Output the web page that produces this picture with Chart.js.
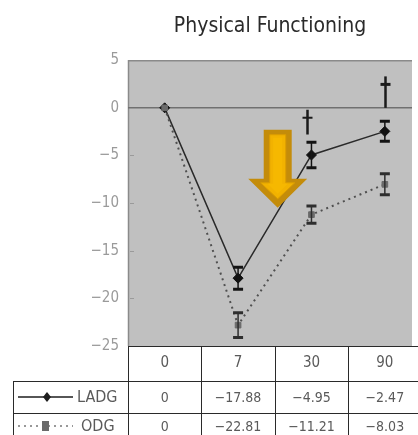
<!DOCTYPE html>
<html>
<head>
<meta charset="utf-8">
<script src="https://cdn.jsdelivr.net/npm/chart.js@4.4.1/dist/chart.umd.min.js"></script>
<style>
  html, body { margin: 0; padding: 0; background: #fff; }
  #wrap { position: relative; width: 418px; height: 435px; }
</style>
</head>
<body>
<div id="wrap"><canvas id="c"></canvas></div>
<script>
// Follow-up days and mean change in Physical Functioning score
const categories = ['0', '7', '30', '90'];
const ladg = [0, -17.88, -4.95, -2.47];
const odg = [0, -22.81, -11.21, -8.03];
const ladgErr = [0, 1.15, 1.35, 1.05];
const odgErr = [0, 1.3, 0.9, 1.1];
const yTicks = [5, 0, -5, -10, -15, -20, -25];
// significance daggers: category index, top and foot score
const daggerIdx = [2, 3];
const daggerTop = [-0.2, 3.3];
const daggerBase = [-2.8, 0];
// highlight arrow: category position, top and tip scores
const arrowAt = 1.54;
const arrowTop = -2.3;
const arrowTip = -10.5;

const FONT = "'Liberation Sans Narrow', 'Arial Narrow', 'DejaVu Sans Condensed', sans-serif";

const toPoints = arr => arr.map((v, i) => ({ x: i, y: v }));

const plotBg = {
  id: 'plotBg',
  beforeDraw(chart) {
    const { ctx, chartArea: a } = chart;
    ctx.save();
    ctx.fillStyle = '#c0c0c0';
    ctx.fillRect(a.left, a.top, a.right - a.left, a.bottom - a.top);
    ctx.strokeStyle = '#8a8a8a';
    ctx.lineWidth = 1.5;
    ctx.beginPath();
    ctx.moveTo(a.right, a.top + 0.5);
    ctx.lineTo(a.left + 0.5, a.top + 0.5);
    ctx.lineTo(a.left + 0.5, a.bottom);
    ctx.stroke();
    // small tick marks on the inside of the value axis
    const y = chart.scales.y;
    ctx.strokeStyle = '#9a9a9a';
    ctx.lineWidth = 1;
    yTicks.forEach(t => {
      if (t === 5 || t === 0 || t === -25) return;
      const py = Math.round(y.getPixelForValue(t)) + 0.5;
      ctx.beginPath();
      ctx.moveTo(a.left + 2, py);
      ctx.lineTo(a.left + 6, py);
      ctx.stroke();
    });
    ctx.restore();
  }
};

const errorBars = {
  id: 'errorBars',
  afterDatasetsDraw(chart) {
    const { ctx } = chart;
    const xs = chart.scales.x, ys = chart.scales.y;
    const sets = [[odg, odgErr, '#2e2e2e'], [ladg, ladgErr, '#141414']];
    ctx.save();
    sets.forEach(([vals, errs, col]) => {
      vals.forEach((v, i) => {
        if (!errs[i]) return;
        const px = xs.getPixelForValue(i);
        const top = ys.getPixelForValue(v + errs[i]);
        const bot = ys.getPixelForValue(v - errs[i]);
        ctx.strokeStyle = col;
        ctx.lineWidth = 1.5;
        ctx.beginPath();
        ctx.moveTo(px, top);
        ctx.lineTo(px, bot);
        ctx.stroke();
        ctx.lineWidth = 3;
        ctx.beginPath();
        ctx.moveTo(px - 5, top);
        ctx.lineTo(px + 5, top);
        ctx.moveTo(px - 5, bot);
        ctx.lineTo(px + 5, bot);
        ctx.stroke();
      });
    });
    ctx.restore();
  }
};

const marks = {
  id: 'marks',
  afterDraw(chart) {
    const { ctx } = chart;
    const xs = chart.scales.x, ys = chart.scales.y;
    ctx.save();
    // daggers
    ctx.strokeStyle = '#1a1a1a';
    daggerIdx.forEach((idx, k) => {
      const px = Math.round(xs.getPixelForValue(idx) - (k === 0 ? 4 : 0)) + 0.5;
      const top = ys.getPixelForValue(daggerTop[k]);
      const foot = ys.getPixelForValue(daggerBase[k]);
      ctx.lineWidth = 2.5;
      ctx.beginPath();
      ctx.moveTo(px, top);
      ctx.lineTo(px, foot);
      ctx.stroke();
      ctx.lineWidth = k === 0 ? 2 : 3;
      ctx.beginPath();
      ctx.moveTo(px - 5, top + 8);
      ctx.lineTo(px + 5, top + 8);
      ctx.stroke();
    });
    // highlight arrow
    const cx = xs.getPixelForValue(arrowAt);
    const y0 = ys.getPixelForValue(arrowTop);
    const y1 = ys.getPixelForValue(arrowTip);
    const headH = 29, shaftW = 28, headW = 59;
    const arrow = (sw, hw, top, tip, hh) => {
      ctx.beginPath();
      ctx.moveTo(cx - sw / 2, top);
      ctx.lineTo(cx + sw / 2, top);
      ctx.lineTo(cx + sw / 2, tip - hh);
      ctx.lineTo(cx + hw / 2, tip - hh);
      ctx.lineTo(cx, tip);
      ctx.lineTo(cx - hw / 2, tip - hh);
      ctx.lineTo(cx - sw / 2, tip - hh);
      ctx.closePath();
    };
    arrow(shaftW, headW, y0, y1, headH);
    ctx.fillStyle = '#c48c0a';
    ctx.fill();
    arrow(16, 34, y0 + 5, y1 - 9, 16);
    ctx.fillStyle = '#f2b200';
    ctx.fill();
    ctx.strokeStyle = '#dc9e00';
    ctx.lineWidth = 1;
    ctx.stroke();
    arrow(9, 20, y0 + 8, y1 - 14, 10);
    ctx.fillStyle = '#f6b800';
    ctx.fill();
    ctx.restore();
  }
};

// data table under the plot: header row comes from the x ticks
const table = {
  id: 'table',
  afterDraw(chart) {
    const { ctx, chartArea: a } = chart;
    const xs = chart.scales.x;
    const W = chart.width, H = chart.height;
    const rowTop1 = a.bottom + 35, rowTop2 = rowTop1 + 32;
    const leftEdge = 13;
    ctx.save();
    ctx.strokeStyle = '#2a2a2a';
    ctx.lineWidth = 1;
    ctx.beginPath();
    // plot bottom edge
    ctx.moveTo(a.left, a.bottom + 0.5);
    ctx.lineTo(W, a.bottom + 0.5);
    // row separators
    ctx.moveTo(leftEdge, rowTop1 + 0.5);
    ctx.lineTo(W, rowTop1 + 0.5);
    ctx.moveTo(leftEdge, rowTop2 + 0.5);
    ctx.lineTo(W, rowTop2 + 0.5);
    ctx.moveTo(leftEdge + 0.5, rowTop1);
    ctx.lineTo(leftEdge + 0.5, H);
    for (let i = 0; i < categories.length; i++) {
      const bx = Math.round(xs.getPixelForValue(i - 0.5)) + 0.5;
      ctx.moveTo(bx, a.bottom);
      ctx.lineTo(bx, H);
    }
    ctx.stroke();

    // legend cells
    const mid1 = rowTop1 + 16, mid2 = rowTop2 + 13;
    ctx.strokeStyle = '#1e1e1e';
    ctx.lineWidth = 1.5;
    ctx.beginPath();
    ctx.moveTo(18, mid1);
    ctx.lineTo(73, mid1);
    ctx.stroke();
    ctx.fillStyle = '#1e1e1e';
    ctx.beginPath();
    ctx.moveTo(47, mid1 - 5);
    ctx.lineTo(51, mid1);
    ctx.lineTo(47, mid1 + 5);
    ctx.lineTo(43, mid1);
    ctx.closePath();
    ctx.fill();

    ctx.strokeStyle = '#777';
    ctx.setLineDash([2, 4]);
    ctx.beginPath();
    ctx.moveTo(18, mid2);
    ctx.lineTo(73, mid2);
    ctx.stroke();
    ctx.setLineDash([]);
    ctx.fillStyle = '#6a6a6a';
    ctx.fillRect(42, mid2 - 5, 7, 10);

    ctx.fillStyle = '#5a5a5a';
    ctx.font = '16px ' + FONT;
    ctx.textAlign = 'left';
    ctx.textBaseline = 'middle';
    ctx.fillText('LADG', 77, mid1 + 1);
    ctx.fillText('ODG', 81, mid2 + 1);

    ctx.font = '14px ' + FONT;
    ctx.textAlign = 'center';
    const fmt = v => (v === 0 ? '0' : String(v).replace('-', '\u2212'));
    for (let i = 0; i < categories.length; i++) {
      const px = xs.getPixelForValue(i);
      ctx.fillText(fmt(ladg[i]), px, mid1 + 1);
      ctx.fillText(fmt(odg[i]), px, mid2 + 1);
    }
    ctx.restore();
  }
};

new Chart(document.getElementById('c'), {
  type: 'line',
  data: {
    datasets: [
      {
        label: 'ODG',
        data: toPoints(odg),
        order: 0,
        borderColor: '#505050',
        borderWidth: 2,
        borderDash: [2, 4],
        pointStyle: 'rect',
        pointRadius: 4,
        pointBackgroundColor: '#6a6a6a',
        pointBorderColor: '#6a6a6a',
        pointBorderWidth: 1
      },
      {
        label: 'LADG',
        data: toPoints(ladg),
        order: 1,
        borderColor: '#2a2a2a',
        borderWidth: 1.5,
        pointStyle: 'rectRot',
        pointRadius: 5,
        pointBackgroundColor: '#111',
        pointBorderColor: '#111',
        pointBorderWidth: 1
      }
    ]
  },
  options: {
    responsive: true,
    maintainAspectRatio: false,
    animation: false,
    layout: { padding: { left: 0, right: 0, top: 0, bottom: 54 } },
    plugins: {
      legend: { display: false },
      tooltip: { enabled: false },
      title: {
        display: true,
        text: 'Physical Functioning',
        fullSize: false,
        color: '#2a2a2a',
        font: { family: FONT, size: 21, weight: 'normal' },
        padding: { top: 14, bottom: 21 }
      }
    },
    scales: {
      x: {
        type: 'linear',
        min: -0.5,
        max: 3.37,
        afterBuildTicks: s => { s.ticks = categories.map((_, i) => ({ value: i })); },
        afterFit: s => { s.height = 35; },
        grid: { display: false, drawTicks: false },
        border: { display: false },
        ticks: {
          callback: v => categories[v],
          color: '#5a5a5a',
          font: { family: FONT, size: 15 },
          padding: 8,
          maxRotation: 0
        }
      },
      y: {
        min: -25,
        max: 5,
        afterBuildTicks: s => { s.ticks = yTicks.map(v => ({ value: v })); },
        afterFit: s => { s.width = 128; },
        grid: {
          drawTicks: false,
          color: ctx => (ctx.tick && ctx.tick.value === 0 ? '#707070' : 'rgba(0,0,0,0)'),
          lineWidth: 1.5
        },
        border: { display: false },
        ticks: {
          color: '#9a9a9a',
          font: { family: FONT, size: 15 },
          padding: 9,
          callback: v => String(v).replace('-', '\u2212')
        }
      }
    }
  },
  plugins: [plotBg, errorBars, marks, table]
});
</script>
</body>
</html>
